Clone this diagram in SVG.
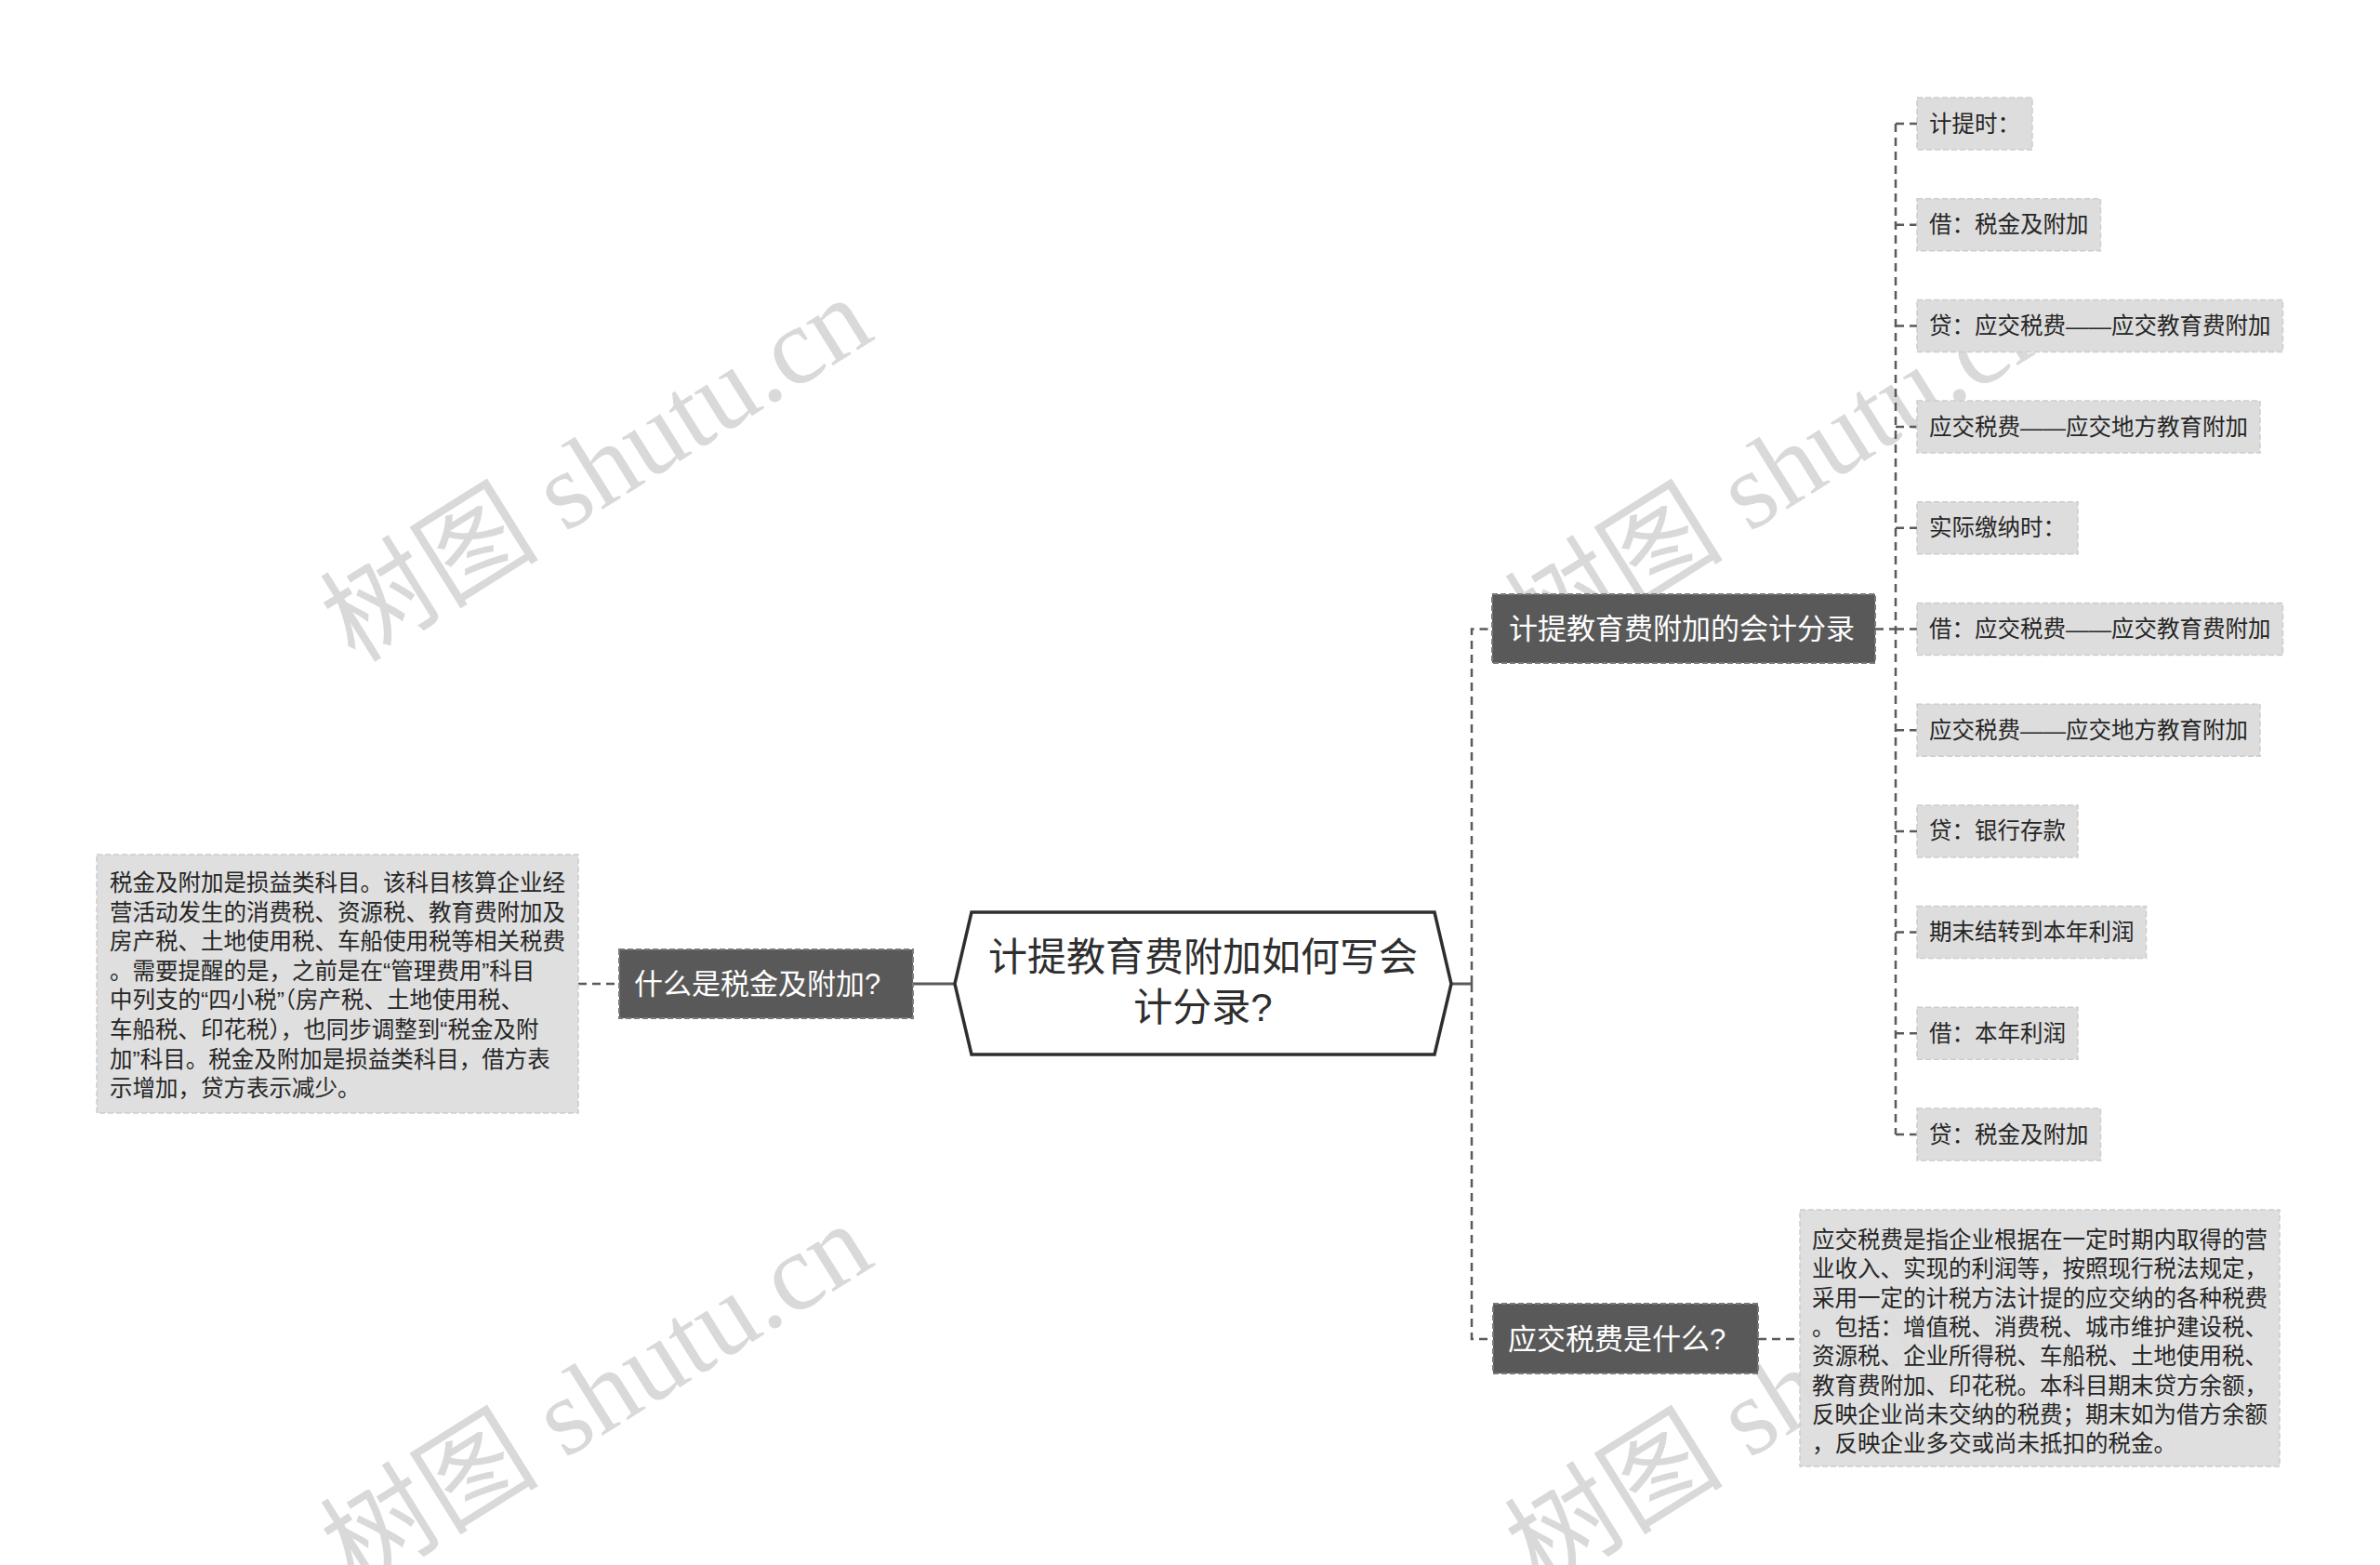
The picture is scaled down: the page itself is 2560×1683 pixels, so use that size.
<svg xmlns="http://www.w3.org/2000/svg" width="2560" height="1683" viewBox="0 0 2560 1683">
<style>
text{font-family:"Liberation Sans","Noto Sans CJK SC",sans-serif;}
.leaf rect{fill:#dddddd;stroke:#cdcdcd;stroke-width:1.5;stroke-dasharray:6 3;}
.leaf text{font-size:24.5px;fill:#262626;dominant-baseline:central;}
.para rect{fill:#dddddd;fill-opacity:0.93;stroke:#cdcdcd;stroke-width:1.5;stroke-dasharray:6 3;}
.para text{font-size:24.5px;fill:#262626;}
.dark rect{fill:#595959;stroke:#7a7a7a;stroke-width:2;stroke-dasharray:6 3;}
.dark text{font-size:31px;fill:#ffffff;dominant-baseline:central;}
.dash{fill:none;stroke:#5a5a5a;stroke-width:2.5;stroke-dasharray:9 6;}
.solid{fill:none;stroke:#5a5a5a;stroke-width:3;}
.wm{font-family:"Liberation Serif","Noto Sans CJK SC",serif;font-size:118px;fill:#d9d9d9;}
</style>
<rect width="2560" height="1683" fill="#ffffff"/>

<g id="watermarks">
  <text class="wm" transform="translate(382,714) rotate(-32)">树图 shutu.cn</text>
  <text class="wm" transform="translate(1656,714) rotate(-32)">树图 shutu.cn</text>
  <text class="wm" transform="translate(382,1710) rotate(-32)">树图 shutu.cn</text>
  <text class="wm" transform="translate(1656,1710) rotate(-32)">树图 shutu.cn</text>
</g>

<g id="connectors">
  <path class="solid" d="M982,1058 H1027"/>
  <path class="dash" d="M622,1058 H666"/>
  <path class="solid" d="M1561,1058 H1583"/>
  <path class="dash" d="M1583,1058 V676.5 H1605"/>
  <path class="dash" d="M1583,1058 V1440 H1606"/>
  <path class="dash" d="M1891,1440 H1936"/>
  <path class="dash" d="M2017,676.5 H2039"/>
  <path class="dash" d="M2039,133 V1220"/>
  <path class="dash" d="M2039,133 H2062"/>
  <path class="dash" d="M2039,241.7 H2062"/>
  <path class="dash" d="M2039,350.4 H2062"/>
  <path class="dash" d="M2039,459.1 H2062"/>
  <path class="dash" d="M2039,567.8 H2062"/>
  <path class="dash" d="M2039,676.5 H2062"/>
  <path class="dash" d="M2039,785.2 H2062"/>
  <path class="dash" d="M2039,893.9 H2062"/>
  <path class="dash" d="M2039,1002.6 H2062"/>
  <path class="dash" d="M2039,1111.3 H2062"/>
  <path class="dash" d="M2039,1220 H2062"/>
</g>

<g id="root">
  <polygon points="1027,1058 1045,981 1543,981 1561,1058 1543,1134 1045,1134" fill="#ffffff" stroke="#2e2e2e" stroke-width="3.5"/>
  <text x="1294" y="1044" text-anchor="middle" font-size="42" fill="#2e2e2e">计提教育费附加如何写会</text>
  <text x="1294" y="1098" text-anchor="middle" font-size="42" fill="#2e2e2e">计分录?</text>
</g>

<g id="n-left" class="dark">
  <rect x="666" y="1021" width="316" height="74"/>
  <text x="682" y="1058">什么是税金及附加?</text>
</g>

<g id="n-left-desc" class="para">
  <rect x="104" y="919" width="518" height="278"/>
  <text x="118" y="958">税金及附加是损益类科目。该科目核算企业经</text>
  <text x="118" y="989.6">营活动发生的消费税、资源税、教育费附加及</text>
  <text x="118" y="1021.2">房产税、土地使用税、车船使用税等相关税费</text>
  <text x="118" y="1052.8">。需要提醒的是，之前是在“管理费用”科目</text>
  <text x="118" y="1084.4">中列支的“四小税”（房产税、土地使用税、</text>
  <text x="118" y="1116">车船税、印花税），也同步调整到“税金及附</text>
  <text x="118" y="1147.6">加”科目。税金及附加是损益类科目，借方表</text>
  <text x="118" y="1179.2">示增加，贷方表示减少。</text>
</g>

<g id="n-entries" class="dark">
  <rect x="1605" y="639" width="412" height="74"/>
  <text x="1623" y="676.5">计提教育费附加的会计分录</text>
</g>

<g id="n-tax" class="dark">
  <rect x="1606" y="1402" width="285" height="75"/>
  <text x="1622" y="1440">应交税费是什么?</text>
</g>

<g id="n-tax-desc" class="para">
  <rect x="1936" y="1301" width="516" height="276"/>
  <text x="1949" y="1342">应交税费是指企业根据在一定时期内取得的营</text>
  <text x="1949" y="1373.3">业收入、实现的利润等，按照现行税法规定，</text>
  <text x="1949" y="1404.6">采用一定的计税方法计提的应交纳的各种税费</text>
  <text x="1949" y="1435.9">。包括：增值税、消费税、城市维护建设税、</text>
  <text x="1949" y="1467.2">资源税、企业所得税、车船税、土地使用税、</text>
  <text x="1949" y="1498.5">教育费附加、印花税。本科目期末贷方余额，</text>
  <text x="1949" y="1529.8">反映企业尚未交纳的税费；期末如为借方余额</text>
  <text x="1949" y="1561.1">，反映企业多交或尚未抵扣的税金。</text>
</g>

<g id="leaf-1" class="leaf"><rect x="2062" y="105" width="124" height="56"/><text x="2075" y="133">计提时：</text></g>
<g id="leaf-2" class="leaf"><rect x="2062" y="213.7" width="197.5" height="56"/><text x="2075" y="241.7">借：税金及附加</text></g>
<g id="leaf-3" class="leaf"><rect x="2062" y="322.4" width="393.5" height="56"/><text x="2075" y="350.4">贷：应交税费——应交教育费附加</text></g>
<g id="leaf-4" class="leaf"><rect x="2062" y="431.1" width="369" height="56"/><text x="2075" y="459.1">应交税费——应交地方教育附加</text></g>
<g id="leaf-5" class="leaf"><rect x="2062" y="539.8" width="173" height="56"/><text x="2075" y="567.8">实际缴纳时：</text></g>
<g id="leaf-6" class="leaf"><rect x="2062" y="648.5" width="393.5" height="56"/><text x="2075" y="676.5">借：应交税费——应交教育费附加</text></g>
<g id="leaf-7" class="leaf"><rect x="2062" y="757.2" width="369" height="56"/><text x="2075" y="785.2">应交税费——应交地方教育附加</text></g>
<g id="leaf-8" class="leaf"><rect x="2062" y="865.9" width="173" height="56"/><text x="2075" y="893.9">贷：银行存款</text></g>
<g id="leaf-9" class="leaf"><rect x="2062" y="974.6" width="246.5" height="56"/><text x="2075" y="1002.6">期末结转到本年利润</text></g>
<g id="leaf-10" class="leaf"><rect x="2062" y="1083.3" width="173" height="56"/><text x="2075" y="1111.3">借：本年利润</text></g>
<g id="leaf-11" class="leaf"><rect x="2062" y="1192" width="197.5" height="56"/><text x="2075" y="1220">贷：税金及附加</text></g>
</svg>
